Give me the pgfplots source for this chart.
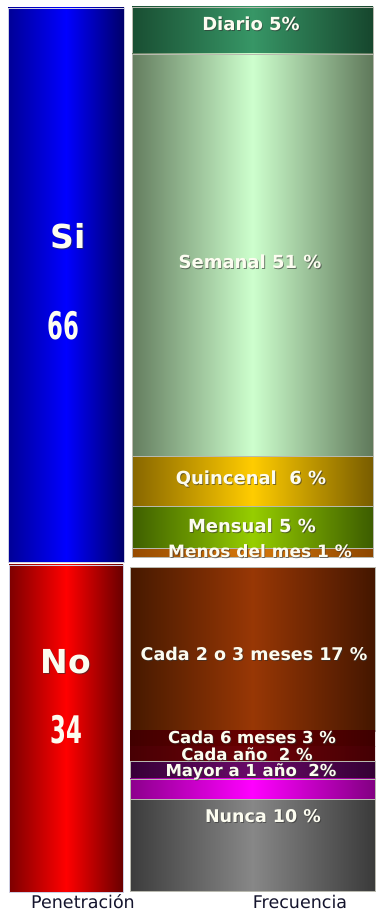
\documentclass[border=0pt]{standalone}
\usepackage{fontspec}
\setmainfont{DejaVu Sans}
\usepackage{pgfplots}
\pgfplotsset{compat=1.18}

\definecolor{siL}{RGB}{0,0,150}\definecolor{siM}{RGB}{0,0,255}\definecolor{siR}{RGB}{0,0,105}
\definecolor{noL}{RGB}{125,0,0}\definecolor{noM}{RGB}{255,0,0}\definecolor{noR}{RGB}{105,0,0}
\definecolor{diL}{RGB}{25,78,50}\definecolor{diM}{RGB}{55,150,102}\definecolor{diR}{RGB}{22,70,45}
\definecolor{seL}{RGB}{100,125,95}\definecolor{seM}{RGB}{205,255,205}\definecolor{seR}{RGB}{95,120,90}
\definecolor{quL}{RGB}{135,102,0}\definecolor{quM}{RGB}{255,204,0}\definecolor{quR}{RGB}{120,92,0}
\definecolor{meL}{RGB}{62,95,0}\definecolor{meM}{RGB}{150,205,0}\definecolor{meR}{RGB}{60,92,0}
\definecolor{mnL}{RGB}{150,75,0}\definecolor{mnM}{RGB}{215,120,10}\definecolor{mnR}{RGB}{140,70,0}
\definecolor{caL}{RGB}{70,25,0}\definecolor{caM}{RGB}{152,55,5}\definecolor{caR}{RGB}{68,22,0}
\definecolor{c6L}{RGB}{65,0,0}\definecolor{c6M}{RGB}{105,0,0}\definecolor{c6R}{RGB}{62,0,0}
\definecolor{c1L}{RGB}{72,0,4}\definecolor{c1M}{RGB}{112,2,8}\definecolor{c1R}{RGB}{68,0,4}
\definecolor{myL}{RGB}{55,0,55}\definecolor{myM}{RGB}{105,10,105}\definecolor{myR}{RGB}{52,0,52}
\definecolor{mgL}{RGB}{140,0,140}\definecolor{mgM}{RGB}{255,0,255}\definecolor{mgR}{RGB}{130,0,130}
\definecolor{nuL}{RGB}{60,60,60}\definecolor{nuM}{RGB}{135,135,135}\definecolor{nuR}{RGB}{58,58,58}
\definecolor{bordr}{RGB}{205,205,225}
\definecolor{sep}{RGB}{185,185,175}
\definecolor{txt}{RGB}{252,252,240}
\definecolor{navy}{RGB}{20,20,45}

% One coordinate system for the whole picture (1 unit = 1pt, 0 at the bottom);
% the percentages are scaled to each panel's height by a y filter.
\pgfplotsset{page/.style={hide axis, scale only axis, width=375pt, height=913pt,
  xmin=0, xmax=375, ymin=0, ymax=913, clip=false, ybar stacked},
  topS/.style={y filter/.expression={y*8.394}},
  botS/.style={y filter/.expression={y*9.62}},
  gap/.style={draw=none, fill=none},
  seg/.style n args={3}{draw=sep, line width=0.5pt, left color=#1, right color=#3, middle color=#2}}

\newcommand{\lbl}[4]{%
  \node[text=black!80, opacity=0.6, inner sep=0pt,
        font=\bfseries\fontsize{#3}{#3}\selectfont] at ([shift={(#1pt+0.9pt,#2pt-0.9pt)}]O) {#4};
  \node[text=txt, inner sep=0pt, font=\bfseries\fontsize{#3}{#3}\selectfont] at ([shift={(#1pt,#2pt)}]O) {#4};}

\begin{document}
\begin{tikzpicture}

% Penetración column
\begin{axis}[page]
\path (rel axis cs:0,0) rectangle (rel axis cs:1,1);
\addplot[gap, bar width=116] coordinates {(66,21)};
\addplot[botS, bar width=114, draw=bordr, line width=0.6pt, left color=noL, right color=noR, middle color=noM] coordinates {(66,34)}; % No
\addplot[gap, bar width=116] coordinates {(66,3)};
\addplot[topS, bar width=116, draw=bordr, line width=0.6pt, left color=siL, right color=siR, middle color=siM] coordinates {(66,66)}; % Si
\end{axis}

% Frecuencia column
\begin{axis}[page]
\path (rel axis cs:0,0) rectangle (rel axis cs:1,1);
\coordinate (O) at (rel axis cs:0,0);
\addplot[gap, bar width=245] coordinates {(252.5,21.5)};
\addplot[botS, bar width=245, seg={nuL}{nuM}{nuR}] coordinates {(252.5,9.6)};   % Nunca
\addplot[botS, bar width=245, seg={mgL}{mgM}{mgR}] coordinates {(252.5,2.1)};   % (sin etiqueta)
\addplot[botS, bar width=245, seg={myL}{myM}{myR}] coordinates {(252.5,1.8)};   % Mayor a 1 año
\addplot[botS, bar width=245, seg={c1L}{c1M}{c1R}, draw=none] coordinates {(252.5,1.6)}; % Cada año
\addplot[botS, bar width=245, seg={c6L}{c6M}{c6R}, draw=none] coordinates {(252.5,1.6)}; % Cada 6 meses
\addplot[botS, bar width=245, seg={caL}{caM}{caR}] coordinates {(252.5,17.0)};  % Cada 2 o 3 meses
\addplot[gap, bar width=241] coordinates {(252.5,10.5)};
\addplot[topS, bar width=241, seg={mnL}{mnM}{mnR}] coordinates {(252.5,1.0)};   % Menos del mes
\addplot[topS, bar width=241, seg={meL}{meM}{meR}] coordinates {(252.5,5.0)};   % Mensual
\addplot[topS, bar width=241, seg={quL}{quM}{quR}] coordinates {(252.5,6.0)};   % Quincenal
\addplot[topS, bar width=241, seg={seL}{seM}{seR}] coordinates {(252.5,47.9)};  % Semanal
\addplot[topS, bar width=241, seg={diL}{diM}{diR}] coordinates {(252.5,5.6)};   % Diario
\end{axis}

% Labels, drawn over both columns
\lbl{68}{677}{33}{Si}
\node[text=txt, inner sep=0pt, font=\bfseries\fontsize{38}{38}\selectfont, xscale=0.6] at ([shift={(63pt,587pt)}]O) {66};
\lbl{66}{251}{33}{No}
\node[text=txt, inner sep=0pt, font=\bfseries\fontsize{38}{38}\selectfont, xscale=0.6] at ([shift={(66pt,183pt)}]O) {34};

\lbl{251}{889}{18}{Diario 5\%}
\lbl{250}{651}{18}{Semanal 51 \%}
\lbl{251}{434}{18}{Quincenal~ 6 \%}
\lbl{252}{387}{18}{Mensual 5 \%}
\lbl{260}{362}{17}{Menos del mes 1 \%}
\lbl{254}{259}{17.5}{Cada 2 o 3 meses 17 \%}
\lbl{252}{176}{16.5}{Cada 6 meses 3 \%}
\lbl{247}{159}{16.5}{Cada año~ 2 \%}
\lbl{251}{141}{16.5}{Mayor a 1 año~ 2\%}
\lbl{263}{97}{17.5}{Nunca 10 \%}

\node[text=navy, inner sep=0pt, font=\fontsize{17.5}{17.5}\selectfont] at ([shift={(83pt,11pt)}]O) {Penetración};
\node[text=navy, inner sep=0pt, font=\fontsize{17.5}{17.5}\selectfont] at ([shift={(300pt,11pt)}]O) {Frecuencia};
\end{tikzpicture}
\end{document}
